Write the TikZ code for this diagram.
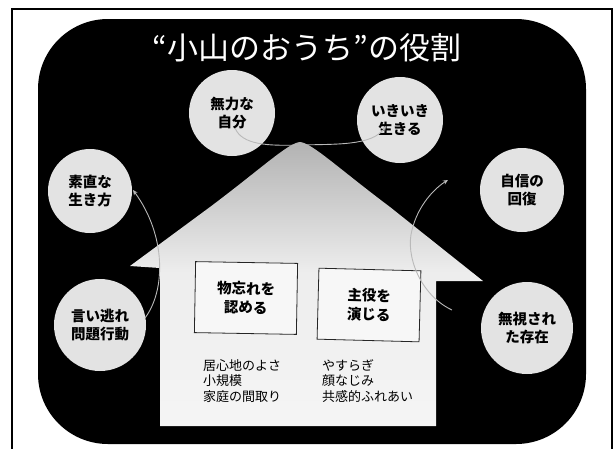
\documentclass[tikz,border=0pt]{standalone}
\usepackage{fontspec}
\setmainfont{Noto Sans CJK JP}
\usetikzlibrary{arrows.meta,calc}
\pgfdeclareverticalshading{houseshade}{100bp}{color(0bp)=(gray!8); color(25bp)=(gray!8); color(52bp)=(gray!14); color(75bp)=(gray!60); color(100bp)=(gray!60)}
\tikzset{
  bubble/.style={circle, fill=gray!22, inner sep=0pt, align=center, font=\bfseries\fontsize{14.5}{17.5}\selectfont},
  pane/.style={draw=black!85, line width=0.8pt, fill=gray!6, minimum width=102pt, minimum height=71pt, align=center, font=\bfseries\fontsize{14.5}{19}\selectfont},
  conn/.style={draw=gray!55, line width=0.9pt, -{Stealth[length=5pt,width=4.5pt]}},
  notes/.style={anchor=north west, inner sep=0pt, align=left, font=\fontsize{13}{15.5}\selectfont}
}
\begin{document}
\begin{tikzpicture}[x=1pt,y=-1pt]
\useasboundingbox (0,0) rectangle (616,448);
\fill[white] (0,0) rectangle (616,448);
% outer frame
\draw[line width=2pt] (12,9) rectangle (612,470);
% black panel
\fill[black, rounded corners=70pt] (38,19) rectangle (586,444);
% title
\node[text=white, font=\fontsize{31}{32}\selectfont] (title) at (307,48) {“小山のおうち”の役割};
% house
\path[shading=houseshade] (160,426) -- (160,268) -- (130,266) -- (210,207)
  .. controls (262,168) and (288,143) .. (300,142)
  .. controls (312,143) and (338,168) .. (390,207)
  -- (483,281) -- (436,281) -- (436,426) -- cycle;
% windows
\node[pane, rotate=-1] (w1) at (246,298) {物忘れを\\認める};
\node[pane, rotate=-1.5] (w2) at (369,305) {主役を\\演じる};
% notes
\node[notes] (n1) at (203,359) {居心地のよさ\\小規模\\家庭の間取り};
\node[notes] (n2) at (322,359) {やすらぎ\\顔なじみ\\共感的ふれあい};
% bubbles
\node[bubble, minimum size=86pt] (c1) at (232,113) {無力な\\自分};
\node[bubble, minimum size=86pt] (c2) at (400,120) {いきいき\\生きる};
\node[bubble, minimum size=84pt] (c3) at (90,191) {素直な\\生き方};
\node[bubble, minimum size=92pt] (c4) at (100,325) {言い逃れ\\問題行動};
\node[bubble, minimum size=84pt] (c5) at (522,190) {自信の\\回復};
\node[bubble, minimum size=92pt] (c6) at (527,328) {無視され\\た存在};
% connector ends
\coordinate (a1s) at ($(c1.center)+(3,15)$);
\coordinate (a1e) at ($(c2.center)+(-14,6)$);
\coordinate (a2s) at ($(c4.center)+(45,-7)$);
\coordinate (a2e) at ($(c3.center)+(43,-1)$);
\coordinate (a3s) at ($(c6.center)+(-75,-18)$);
\coordinate (a3e) at ($(c5.center)+(-74,-10)$);
% connectors
\draw[conn] (a1s) .. controls (242,145) and (268,146) .. (300,145)
  .. controls (335,144) and (372,146) .. (a1e);
\draw[conn] (a2s) .. controls (166,290) and (166,235) .. (a2e);
\draw[conn] (a3s) .. controls (420,295) and (405,255) .. (412,230)
  .. controls (418,205) and (435,188) .. (a3e);
\end{tikzpicture}
\end{document}
